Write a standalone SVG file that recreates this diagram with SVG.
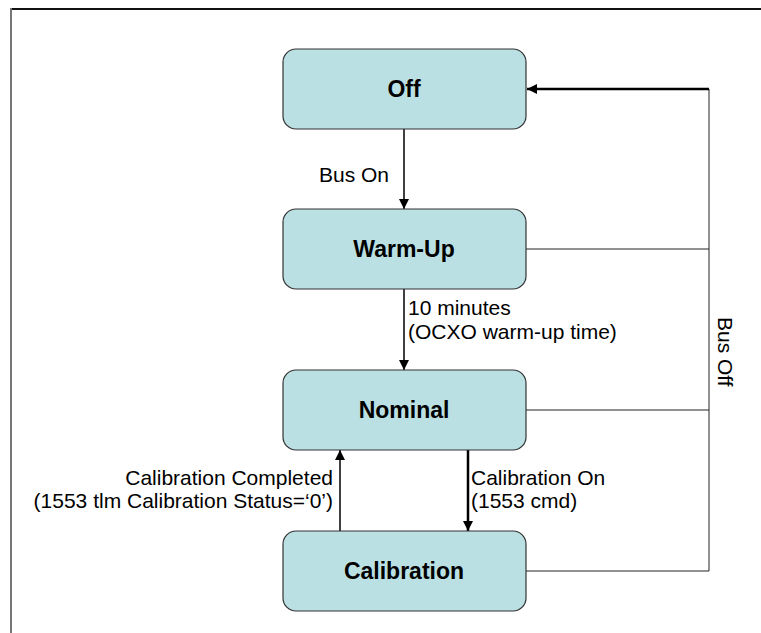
<svg xmlns="http://www.w3.org/2000/svg" width="761" height="633" viewBox="0 0 761 633">
  <defs>
    <marker id="arrow" viewBox="0 0 10 10" refX="10" refY="5" markerWidth="10" markerHeight="10" markerUnits="userSpaceOnUse" orient="auto">
      <path d="M0,0 L10,5 L0,10 Z" fill="#000"/>
    </marker>
  </defs>
  <style>
    .state rect { fill: #bbe0e3; stroke: #333; stroke-width: 1.2; }
    .state text { font-family: "Liberation Sans", Arial, sans-serif; font-weight: bold; font-size: 23px; text-anchor: middle; fill: #000; }
    .edge { fill: none; stroke: #000; stroke-width: 1.5; }
    .thick { stroke-width: 2.5; }
    .thin { stroke: #222; stroke-width: 1; }
    .label { font-family: "Liberation Sans", Arial, sans-serif; font-size: 21px; fill: #000; }
  </style>
  <rect x="0" y="0" width="761" height="633" fill="#fff"/>
  <!-- page frame -->
  <line x1="10" y1="9" x2="761" y2="9" stroke="#111" stroke-width="1.8"/>
  <line x1="11" y1="8" x2="11" y2="633" stroke="#777" stroke-width="2"/>

  <g id="connectors">
    <!-- Bus Off return path -->
    <line class="edge thin" x1="526" y1="249" x2="709" y2="249"/>
    <line class="edge thin" x1="526" y1="410" x2="709" y2="410"/>
    <line class="edge thin" x1="526" y1="571" x2="709" y2="571"/>
    <line class="edge thin" x1="709" y1="89" x2="709" y2="571"/>
    <line class="edge thick" x1="709" y1="89" x2="527" y2="89" marker-end="url(#arrow)"/>
    <!-- forward transitions -->
    <line class="edge" x1="404" y1="129" x2="404" y2="209" marker-end="url(#arrow)"/>
    <line class="edge" x1="404" y1="289" x2="404" y2="370" marker-end="url(#arrow)"/>
    <line class="edge thick" x1="468" y1="450" x2="468" y2="531" marker-end="url(#arrow)"/>
    <line class="edge" x1="340" y1="531" x2="340" y2="450" marker-end="url(#arrow)"/>
    <!-- transition labels -->
    <text class="label" x="389" y="182" text-anchor="end">Bus On</text>
    <text class="label" x="408" y="315">10 minutes</text>
    <text class="label" x="408" y="339">(OCXO warm-up time)</text>
    <text class="label" x="333" y="485" text-anchor="end">Calibration Completed</text>
    <text class="label" x="333" y="508" text-anchor="end">(1553 tlm Calibration Status=‘0’)</text>
    <text class="label" x="471" y="485">Calibration On</text>
    <text class="label" x="471" y="508">(1553 cmd)</text>
    <text class="label" transform="translate(718,317) rotate(90)">Bus Off</text>
  </g>

  <g id="off" class="state">
    <rect x="283" y="49" width="243" height="80" rx="13"/>
    <text x="404" y="97">Off</text>
  </g>
  <g id="warm-up" class="state">
    <rect x="283" y="209" width="243" height="80" rx="13"/>
    <text x="404" y="257">Warm-Up</text>
  </g>
  <g id="nominal" class="state">
    <rect x="283" y="370" width="243" height="80" rx="13"/>
    <text x="404" y="418">Nominal</text>
  </g>
  <g id="calibration" class="state">
    <rect x="283" y="531" width="243" height="80" rx="13"/>
    <text x="404" y="579">Calibration</text>
  </g>
</svg>
